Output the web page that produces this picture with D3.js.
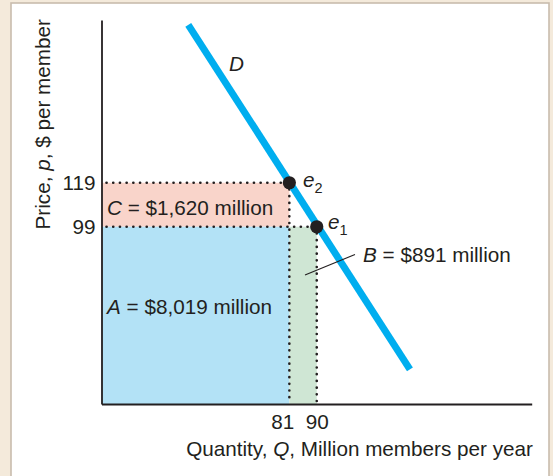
<!DOCTYPE html>
<html>
<head>
<meta charset="utf-8">
<script src="https://cdn.jsdelivr.net/npm/d3@7"></script>
<style>
  html, body { margin: 0; padding: 0; background: #f4eadb; }
  svg { display: block; }
  text { font-family: "Liberation Sans", Arial, Helvetica, sans-serif; fill: #231f20; }
</style>
</head>
<body>
<svg id="chart" width="553" height="476"></svg>
<script>
// ---- data ----
const priceTicks = [119, 99];          // p at e2, e1
const quantityTicks = [81, 90];        // Q at e2, e1
const equilibria = [
  { name: "e", sub: "2", q: 81, p: 119 },
  { name: "e", sub: "1", q: 90, p: 99 }
];
const demandQ = [47.8, 120.6];         // demand line end points (quantity)
const demandP = [190.8, 34.1];         // demand line end points (price)
const areaLabels = ["C", "A", "B"];
const areaValues = ["$1,620 million", "$8,019 million", "$891 million"];
const axisDomainQ = [19.3, 160.6];
const axisDomainP = [18.4, 193];

// ---- layout ----
const svg = d3.select("#chart");
const W = 553, H = 476;
const FS = 20.7;
svg.append("rect").attr("x", 0).attr("y", 0).attr("width", W).attr("height", H).attr("fill", "#f4eadb");
svg.append("rect").attr("x", 11).attr("y", 3).attr("width", 538).attr("height", 480)
  .attr("fill", "#ffffff").attr("stroke", "#c9bcad").attr("stroke-width", 1.6);

const x = d3.scaleLinear().domain(axisDomainQ).range([101.5, 531.7]);
const y = d3.scaleLinear().domain(axisDomainP).range([404, 20]);

const q0 = axisDomainQ[0], p0 = axisDomainP[0];
const e2 = equilibria[0], e1 = equilibria[1];

// areas
const areas = [
  { q1: q0, q2: e2.q, pLo: e1.p, pHi: e2.p, fill: "#f9d4ca" },   // C
  { q1: q0, q2: e2.q, pLo: p0, pHi: e1.p, fill: "#b3e2f6" },     // A
  { q1: e2.q, q2: e1.q, pLo: p0, pHi: e1.p, fill: "#cfe6d4" }    // B
];
svg.selectAll("rect.area").data(areas).enter().append("rect").attr("class", "area")
  .attr("x", d => x(d.q1)).attr("y", d => y(d.pHi))
  .attr("width", d => x(d.q2) - x(d.q1)).attr("height", d => y(d.pLo) - y(d.pHi))
  .attr("fill", d => d.fill);

// dotted guide lines
const dotStyle = sel => sel.attr("stroke", "#231f20").attr("stroke-width", 2.6)
  .attr("stroke-linecap", "round").attr("stroke-dasharray", "0.1,6.6").attr("fill", "none");
equilibria.forEach(e => {
  svg.append("line").attr("x1", x(q0) + 5).attr("x2", x(e.q)).attr("y1", y(e.p)).attr("y2", y(e.p)).call(dotStyle);
  svg.append("line").attr("x1", x(e.q)).attr("x2", x(e.q)).attr("y1", y(e.p)).attr("y2", y(p0) - 3).call(dotStyle);
});

// axes
const xAxis = d3.axisBottom(x).tickValues([]).tickSizeOuter(0);
const yAxis = d3.axisLeft(y).tickValues([]).tickSizeOuter(0);
const gx = svg.append("g").attr("transform", `translate(0,${y(p0)})`).call(xAxis);
const gy = svg.append("g").attr("transform", `translate(${x(q0)},0)`).call(yAxis);
[gx, gy].forEach(g => g.select(".domain").attr("stroke", "#231f20").attr("stroke-width", 1.8));

// tick labels
svg.selectAll("text.ptick").data(priceTicks).enter().append("text").attr("class", "ptick")
  .attr("x", x(q0) - 6).attr("y", d => y(d)).attr("dy", "0.36em")
  .attr("text-anchor", "end").attr("font-size", FS).text(d => d);
svg.selectAll("text.qtick").data(quantityTicks).enter().append("text").attr("class", "qtick")
  .attr("x", (d, i) => i === 0 ? x(d) + 5 : x(d) - 11).attr("y", y(p0) + 24.5)
  .attr("text-anchor", (d, i) => i === 0 ? "end" : "start").attr("font-size", FS).text(d => d);

// axis titles
const xt = svg.append("text").attr("x", 533).attr("y", 456).attr("text-anchor", "end").attr("font-size", FS);
xt.append("tspan").text("Quantity, ");
xt.append("tspan").attr("font-style", "italic").text("Q");
xt.append("tspan").text(", Million members per year");

const yt = svg.append("text").attr("transform", "translate(50,19) rotate(-90)")
  .attr("text-anchor", "end").attr("font-size", FS);
yt.append("tspan").text("Price, ");
yt.append("tspan").attr("font-style", "italic").text("p");
yt.append("tspan").text(", $ per member");

// demand line
const line = d3.line().x(d => x(d[0])).y(d => y(d[1]));
svg.append("path").datum(demandQ.map((q, i) => [q, demandP[i]]))
  .attr("d", line).attr("stroke", "#00aeef").attr("stroke-width", 7).attr("fill", "none");

svg.append("text").attr("x", 229).attr("y", 71).attr("font-size", FS).attr("font-style", "italic").text("D");

// equilibrium dots
svg.selectAll("circle.eq").data(equilibria).enter().append("circle").attr("class", "eq")
  .attr("cx", d => x(d.q)).attr("cy", d => y(d.p)).attr("r", 6.6).attr("fill", "#231f20");
const eqLabelPos = [[303, 187], [328, 229]];
equilibria.forEach((e, i) => {
  const t = svg.append("text").attr("x", eqLabelPos[i][0]).attr("y", eqLabelPos[i][1]).attr("font-size", FS);
  t.append("tspan").attr("font-style", "italic").text(e.name);
  t.append("tspan").attr("font-size", 14.5).attr("dy", 6).text(e.sub);
});

// area labels
const areaLabelPos = [[107, 215], [107, 314], [363, 262]];
areaLabels.forEach((l, i) => {
  const t = svg.append("text").attr("x", areaLabelPos[i][0]).attr("y", areaLabelPos[i][1]).attr("font-size", FS);
  t.append("tspan").attr("font-style", "italic").text(l);
  t.append("tspan").text(" = " + areaValues[i]);
});
// leader line for B
svg.append("line").attr("x1", 305).attr("y1", 275).attr("x2", 355).attr("y2", 254.5)
  .attr("stroke", "#231f20").attr("stroke-width", 1.1);
</script>
</body>
</html>
